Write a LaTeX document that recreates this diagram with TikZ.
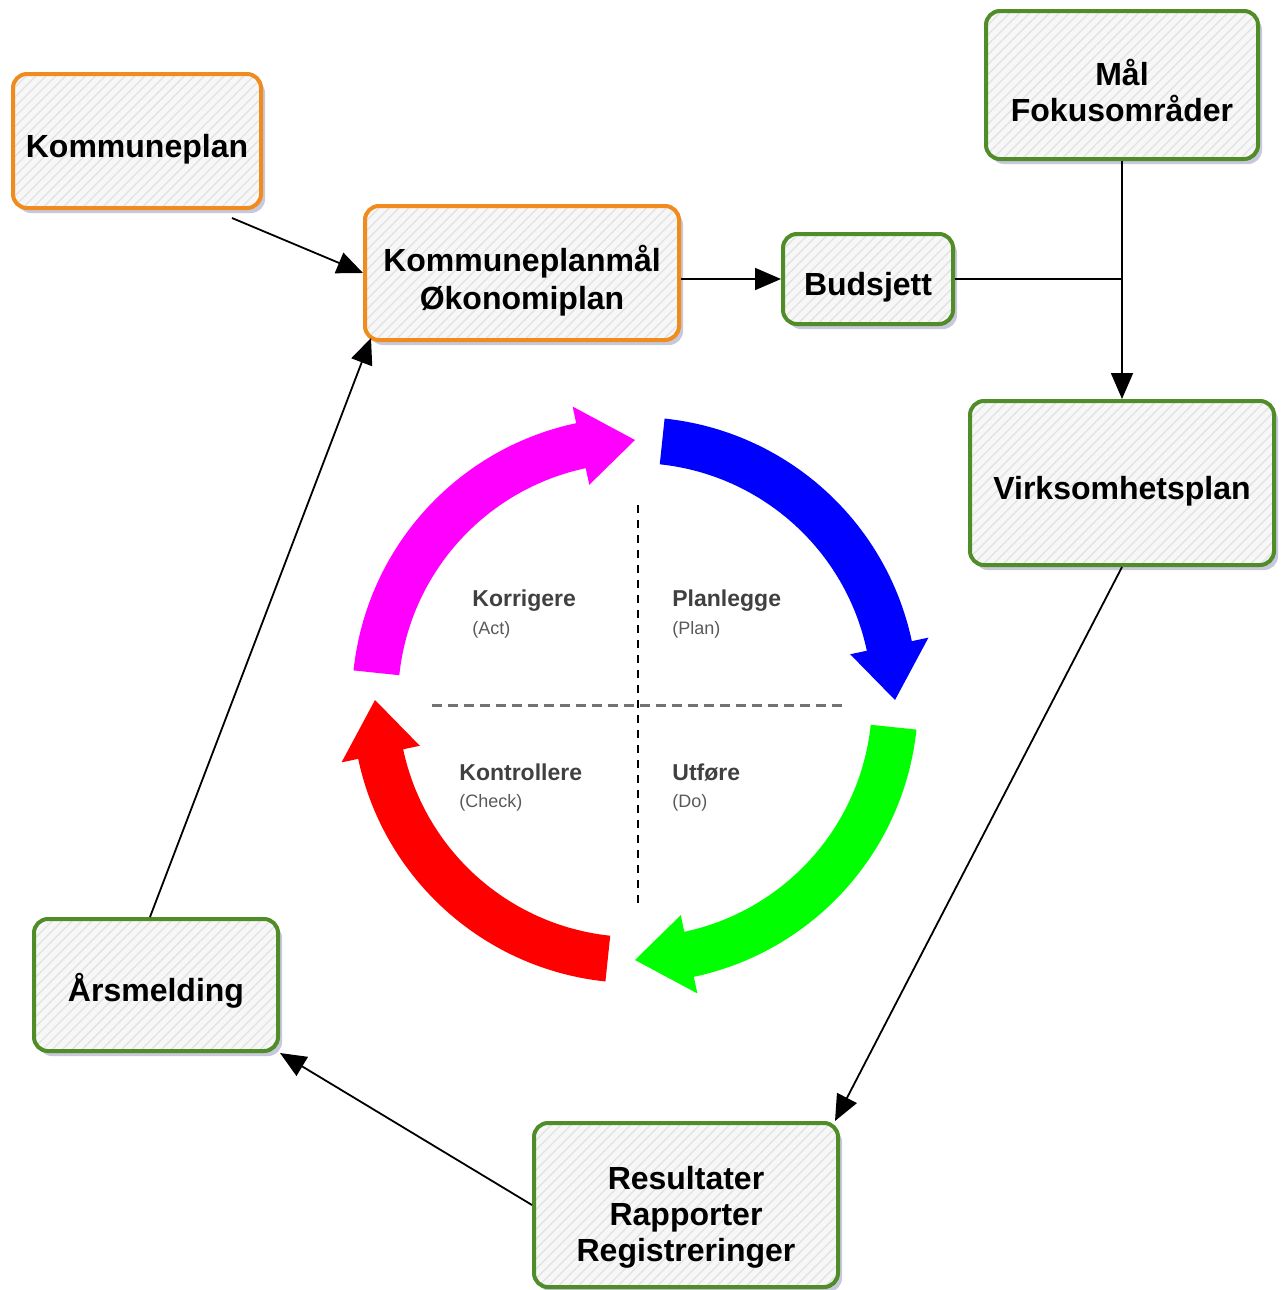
\documentclass[tikz,border=0pt]{standalone}
\usepackage{fontspec}
\setmainfont{Liberation Sans}
\usetikzlibrary{arrows.meta,shadows,patterns.meta}

\definecolor{boxorange}{RGB}{240,140,30}
\definecolor{boxgreen}{RGB}{80,140,40}
\definecolor{actpink}{RGB}{255,0,255}
\definecolor{planblue}{RGB}{0,0,255}
\definecolor{dogreen}{RGB}{0,255,0}
\definecolor{checkred}{RGB}{255,0,0}
\newcommand{\boxstrut}[1][20pt]{\rule{0pt}{#1}}

\tikzset{
  planbox/.style={draw, rounded corners=7pt, line width=2pt, align=center,
    font=\bfseries\fontsize{16}{18}\selectfont, inner sep=0pt,
    drop shadow={shadow xshift=2pt, shadow yshift=-2.5pt, fill=blue!25!gray, opacity=0.35},
    preaction={fill=gray!6},
    preaction={pattern={Lines[angle=45,distance=3.5pt,line width=0.7pt]}, pattern color=gray!22}},
  orangebox/.style={planbox, draw=boxorange},
  greenbox/.style={planbox, draw=boxgreen},
  conn/.style={line width=0.9pt, -{Triangle[length=13pt,width=11pt]}},
  quadlabel/.style={anchor=base west, inner sep=0pt, text=black!75, font=\bfseries\fontsize{11.5}{13}\selectfont},
  quadsub/.style={anchor=base west, inner sep=0pt, text=black!65, font=\fontsize{9}{10}\selectfont}
}

\begin{document}
\begin{tikzpicture}[x=0.5pt,y=-0.5pt]
\useasboundingbox (0,0) rectangle (1285,1290);
\node[orangebox, minimum width=124pt, minimum height=67pt] (kp) at (137,141) {\boxstrut Kommuneplan};
\node[orangebox, minimum width=157pt, minimum height=67pt] (kpm) at (522,273) {\boxstrut[21pt]Kommuneplanmål\\[1pt]Økonomiplan};
\node[greenbox, minimum width=85pt, minimum height=45pt] (bud) at (868,279) {\boxstrut Budsjett};
\node[greenbox, minimum width=136pt, minimum height=74pt] (mal) at (1122,85) {\boxstrut[19pt]Mål\\Fokusområder};
\node[greenbox, minimum width=152pt, minimum height=82pt] (virk) at (1122,483) {\boxstrut Virksomhetsplan};
\node[greenbox, minimum width=122pt, minimum height=66pt] (ars) at (156,985) {\boxstrut Årsmelding};
\node[greenbox, minimum width=152pt, minimum height=82pt] (res) at (686,1205) {\boxstrut[24pt]Resultater\\Rapporter\\Registreringer};

\draw[conn] ([xshift=-15.5pt,yshift=-4pt]kp.south east) -- (kpm.west);
\draw[conn] (kpm.east |- bud.west) -- (bud.west);
\coordinate (jn) at (bud.east -| mal.south);
\draw[line width=0.9pt] (bud.east) -- (jn);
\draw[conn] (mal.south) -- (virk.north);
\draw[conn] (virk.south) -- ([xshift=-2.5pt]res.north east);
\draw[conn] (res.west) -- (ars.south east);
\draw[conn] ([xshift=-3pt]ars.north) -- ([xshift=4pt,yshift=2pt]kpm.south west);

% PDCA wheel
\draw[black!55, line width=1.5pt, dash pattern=on 5pt off 3pt] (432,705) -- (845,705);
\draw[black, line width=0.9pt, dash pattern=on 4pt off 3.5pt] (638,505) -- (638,905);
\begin{scope}[shift={(635,700)}, yscale=-1]
\fill[actpink] (174:283) arc[start angle=174, end angle=102, radius=283] -- (102:300) -- (90:260) -- (102:220) -- (102:237) arc[start angle=102, end angle=174, radius=237] -- cycle;
\fill[planblue] (84:283) arc[start angle=84, end angle=12, radius=283] -- (12:300) -- (0:260) -- (12:220) -- (12:237) arc[start angle=12, end angle=84, radius=237] -- cycle;
\fill[dogreen] (-6:283) arc[start angle=-6, end angle=-78, radius=283] -- (-78:300) -- (-90:260) -- (-78:220) -- (-78:237) arc[start angle=-78, end angle=-6, radius=237] -- cycle;
\fill[checkred] (-96:283) arc[start angle=-96, end angle=-168, radius=283] -- (-168:300) -- (-180:260) -- (-168:220) -- (-168:237) arc[start angle=-168, end angle=-96, radius=237] -- cycle;
\end{scope}

\node[quadlabel] (act) at (472,606) {Korrigere};
\node[quadsub] (actsub) at (472,634) {(Act)};
\node[quadlabel] (plan) at (672,606) {Planlegge};
\node[quadsub] (plansub) at (672,634) {(Plan)};
\node[quadlabel] (check) at (459,780) {Kontrollere};
\node[quadsub] (checksub) at (459,807) {(Check)};
\node[quadlabel] (do) at (672,780) {Utføre};
\node[quadsub] (dosub) at (672,807) {(Do)};
\end{tikzpicture}
\end{document}
